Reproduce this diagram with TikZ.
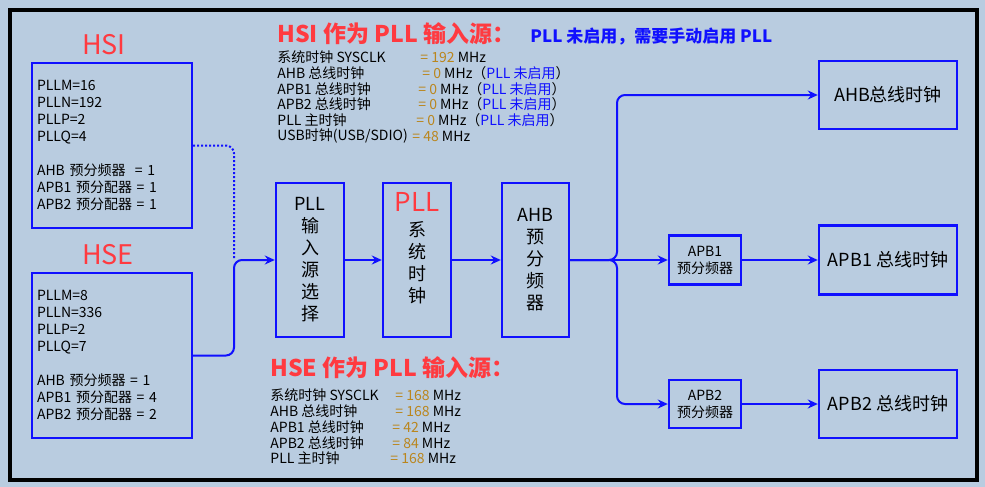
\documentclass[tikz,border=0pt]{standalone}
\usepackage{fontspec}
\setmainfont{Noto Sans CJK SC}
\usetikzlibrary{arrows.meta}
\definecolor{bgblue}{RGB}{185,204,224}
\definecolor{lineblue}{RGB}{16,16,255}
\definecolor{titlered}{RGB}{255,58,64}
\definecolor{numgold}{RGB}{186,134,30}

\begin{document}
\begin{tikzpicture}[x=0.5pt,y=-0.5pt,
box/.style = {draw=lineblue, line width=1.2pt, inner sep=0pt},
cfg/.style = {align=left, text width=75pt, inner xsep=2.5pt,
            font=\fontsize{7}{8.5}\selectfont},
stack/.style = {align=center, font=\fontsize{9}{11}\selectfont},
info/.style = {anchor=west, inner sep=0pt, font=\fontsize{7}{8}\selectfont},
flow/.style = {draw=lineblue, line width=1pt, -{Stealth[length=5pt,width=4.5pt]}},
title/.style = {text=titlered, inner sep=0pt, font=\fontsize{13.5}{16}\selectfont},
head/.style = {anchor=west, text=titlered, inner sep=0pt,
            font=\bfseries\fontsize{11.5}{14}\selectfont}
                ]
    \fill[bgblue] (0,0) rectangle (985,487);
    \useasboundingbox (0,0) rectangle (985,487);
    \draw[black, line width=2pt] (10,10) rectangle (977,480);
    % clock sources
    \node[title] at (104,45) (hsititle) {HSI};
    \node[box, minimum width=80pt, minimum height=82.5pt, cfg] at (112,145.5) (hsi)
        {PLLM=16\\PLLN=192\\PLLP=2\\PLLQ=4\\[8.5pt]AHB 预分频器 \ = 1\\APB1 预分配器 = 1\\APB2 预分配器 = 1};
    \node[title] at (108,255) (hsetitle) {HSE};
    \node[box, minimum width=80pt, minimum height=82.5pt, cfg] at (112,355.5) (hse)
        {PLLM=8\\PLLN=336\\PLLP=2\\PLLQ=7\\[8.5pt]AHB 预分频器 = 1\\APB1 预分配器 = 4\\APB2 预分配器 = 2};
    \coordinate (mux) at (234,260);
    % PLL chain
    \node[box, minimum width=34pt, minimum height=77pt, stack] at (310,260) (pllsel)
        {PLL\\输\\入\\源\\选\\择};
    \node[box, minimum width=34pt, minimum height=77pt] at (417,260) (pllsys) {};
    \node[text=titlered, inner sep=0pt, font=\fontsize{13}{15}\selectfont] at (417,202) (pllname) {PLL};
    \node[stack] at (417,263) (pllsystxt) {系\\统\\时\\钟};
    \node[box, minimum width=33.5pt, minimum height=77pt, stack] at (535.5,260) (ahbpre)
        {AHB\\预\\分\\频\\器};
    \coordinate (split) at (617,260);
    % buses
    \node[box, minimum width=69pt, minimum height=34pt, font=\fontsize{9}{11}\selectfont] at (888,95) (ahbbus) {AHB总线时钟};
    \node[box, minimum width=36pt, minimum height=24.5pt, align=center, font=\fontsize{7}{8.5}\selectfont] at (705,260) (apb1pre) {APB1\\预分频器};
    \node[box, minimum width=69pt, minimum height=34.5pt, font=\fontsize{9}{11}\selectfont] at (888,260) (apb1bus) {APB1 总线时钟};
    \node[box, minimum width=36pt, minimum height=24pt, align=center, font=\fontsize{7}{8.5}\selectfont] at (705,404) (apb2pre) {APB2\\预分频器};
    \node[box, minimum width=69pt, minimum height=34pt, font=\fontsize{9}{11}\selectfont] at (888,404) (apb2bus) {APB2 总线时钟};
    \draw[lineblue, line width=1pt, densely dotted, rounded corners=4pt] (hsi.east) -| (mux);
    \draw[flow, rounded corners=4pt] (hse.east) -| (mux) -- (pllsel.west);
    \draw[flow] (pllsel.east) -- (pllsys.west);
    \draw[flow] (pllsys.east) -- (ahbpre.west);
    \draw[flow, rounded corners=4pt] (ahbpre.east) -- (split) |- (ahbbus.west);
    \draw[flow] (ahbpre.east) -- (apb1pre.west);
    \draw[flow, rounded corners=4pt] (ahbpre.east) -- (split) |- (apb2pre.west);
    \draw[flow] (apb1pre.east) -- (apb1bus.west);
    \draw[flow] (apb2pre.east) -- (apb2bus.west);
    % results
    \node[head] at (277,34) (hsihead) {HSI 作为 PLL 输入源：};
    \node[anchor=west, inner sep=0pt, text=lineblue, font=\bfseries\fontsize{8.5}{10}\selectfont] at (530,37) (hsinote)
        {PLL 未启用，需要手动启用 PLL};
    \foreach \yy/\ex/\val/\nt/\lab in {57/420/192/0/{系统时钟 SYSCLK}, 73/422/0/1/{AHB 总线时钟},
            89/418/0/1/{APB1 总线时钟}, 104/418/0/1/{APB2 总线时钟}, 120/416/0/1/{PLL 主时钟},
            136/412/48/0/{USB时钟(USB/SDIO)}}{
        \node[info] at (277,\yy) (hsilab\yy) {\lab};
        \node[info] at (\ex,\yy) (hsival\yy) {\textcolor{numgold}{= \val} MHz\ifnum\nt=1 （\textcolor{lineblue}{PLL 未启用}）\fi};
    }
    \node[head] at (270,368) (hsehead) {HSE 作为 PLL 输入源：};
    \foreach \yy/\ex/\val/\lab in {395/395/168/{系统时钟 SYSCLK}, 411/395/168/{AHB 总线时钟},
            427/392/42/{APB1 总线时钟}, 443/392/84/{APB2 总线时钟}, 458/390/168/{PLL 主时钟}}{
        \node[info] at (270,\yy) (hselab\yy) {\lab};
        \node[info] at (\ex,\yy) (hseval\yy) {\textcolor{numgold}{= \val} MHz};
    }
\end{tikzpicture}
\end{document}
